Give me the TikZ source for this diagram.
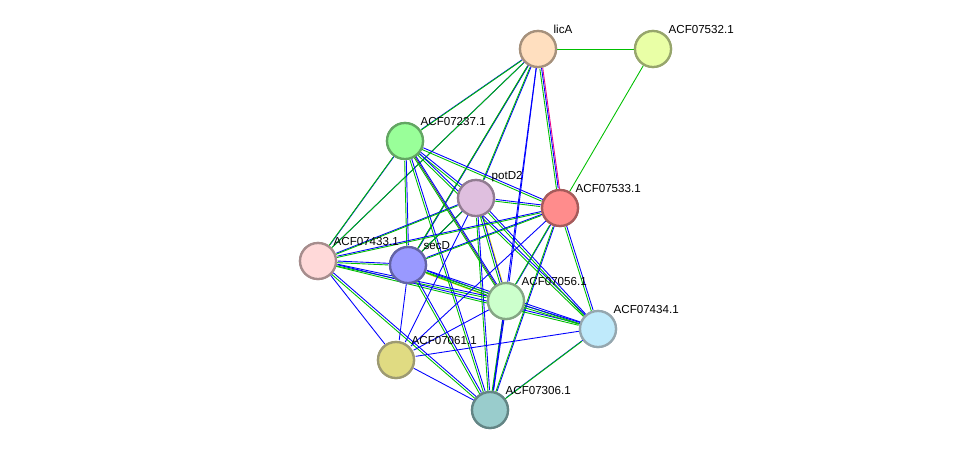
\documentclass[tikz,border=0pt]{standalone}
\usepackage{fontspec}
\setmainfont{Liberation Sans}
\usetikzlibrary{positioning}
\colorlet{cLic}{orange!25}
\colorlet{cA532}{lime!35}
\colorlet{cA237}{green!40}
\colorlet{cPot}{violet!25}
\colorlet{cA533}{red!45}
\colorlet{cA433}{pink!60}
\colorlet{cSec}{blue!40}
\colorlet{cA056}{green!20}
\colorlet{cA434}{cyan!25}
\colorlet{cA061}{yellow!60!gray!70}
\colorlet{cA306}{teal!40}

\begin{document}
\begin{tikzpicture}[x=0.02cm, y=-0.02cm]
  % Stile
  \tikzset{
    prot/.style={circle, draw=#1!65!black, fill=#1, line width=1.3pt, minimum size=0.72cm, inner sep=0pt},
    lbl/.style={font=\fontsize{6.6}{7}\selectfont, anchor=south west, inner sep=1pt},
    eb/.style={blue, line width=0.5pt, transform canvas={xshift=0.45pt, yshift=0.45pt}},
    eg/.style={green!75!black, line width=0.5pt, transform canvas={xshift=-0.45pt, yshift=-0.45pt}},
    ek/.style={black!70, line width=0.5pt}
  }
  \useasboundingbox (0,0) rectangle (976,457);

  % Proteine
  \node[prot=cLic] (lic) at (538,49) {};
  \node[prot=cA532] (a532) at (653,49) {};
  \node[prot=cA237] (a237) at (405,141) {};
  \node[prot=cPot] (pot) at (476,198) {};
  \node[prot=cA533] (a533) at (560,208) {};
  \node[prot=cA433] (a433) at (318,261) {};
  \node[prot=cSec] (sec) at (408,265) {};
  \node[prot=cA056] (a056) at (506,301) {};
  \node[prot=cA434] (a434) at (598,329) {};
  \node[prot=cA061] (a061) at (396,360) {};
  \node[prot=cA306] (a306) at (490,410) {};

  % Verbindungen
  \draw[green!75!black, line width=0.5pt] (lic) -- (a532);
  \draw[green!75!black, line width=0.5pt] (a532) -- (a533);
  \draw[magenta, line width=0.5pt, transform canvas={xshift=1.2pt}] (lic) -- (a533);
  \draw[ek] (lic) -- (sec);
  \draw[ek] (a237) -- (a056);
  \draw[ek] (pot) -- (sec);
  \draw[ek] (a056) -- (a306);
  \draw[yellow!70!olive, line width=0.5pt, transform canvas={xshift=1pt}] (pot) -- (a056);
  \draw[yellow!70!olive, line width=0.5pt, transform canvas={yshift=-1pt}] (sec) -- (a056);
  \foreach \a/\b in {lic/a237, lic/sec, lic/pot, lic/a533, lic/a433,
      a237/a433, a237/sec, a237/pot, a237/a533, a237/a056, a237/a434, a237/a306,
      pot/a433, pot/sec, pot/a533, pot/a056, pot/a434, pot/a306,
      a533/a433, a533/sec, a533/a056, a533/a434, a533/a306,
      a433/sec, a433/a056, a433/a434, a433/a306,
      sec/a056, sec/a434, sec/a306, a056/a434, a056/a306, a434/a306}
    {\draw[eb] (\a) -- (\b); \draw[eg] (\a) -- (\b);}
  \foreach \a/\b in {lic/a056, lic/a306, pot/a061, a533/a061, a433/a061,
      sec/a061, a056/a061, a434/a061, a061/a306}
    {\draw[eb] (\a) -- (\b);}

  % Knoten erneut ueber den Linien
  \foreach \n/\c in {lic/cLic, a532/cA532, a237/cA237, pot/cPot, a533/cA533,
      a433/cA433, sec/cSec, a056/cA056, a434/cA434, a061/cA061, a306/cA306}
    {\node[prot=\c] at (\n) {};}

  % Beschriftungen
  \node[lbl] at (lic.north east) {licA};
  \node[lbl] at (a532.north east) {ACF07532.1};
  \node[lbl] at (a237.north east) {ACF07237.1};
  \node[lbl] at (pot.north east) {potD2};
  \node[lbl] at (a533.north east) {ACF07533.1};
  \node[lbl] at (a433.north east) {ACF07433.1};
  \node[lbl] at (sec.north east) {secD};
  \node[lbl] at (a056.north east) {ACF07056.1};
  \node[lbl] at (a434.north east) {ACF07434.1};
  \node[lbl] at (a061.north east) {ACF07061.1};
  \node[lbl] at (a306.north east) {ACF07306.1};
\end{tikzpicture}
\end{document}
